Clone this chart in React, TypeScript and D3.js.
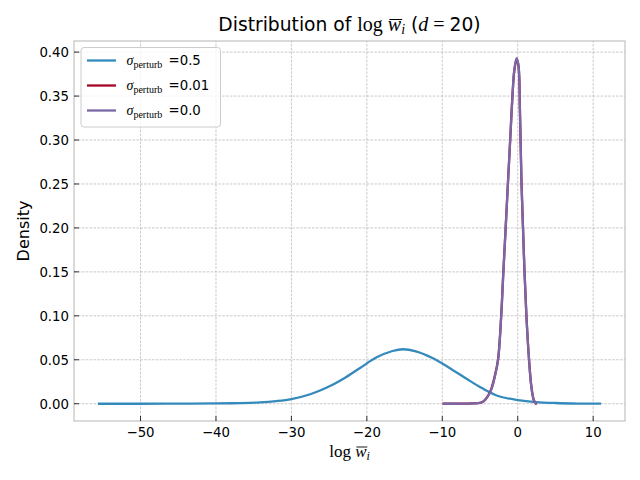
import React, { useLayoutEffect, useRef, useState } from 'react';
import * as d3 from 'd3';

// KDE curves (x = log w_i, y = density)
const blueX = [-55.5, -50, -45, -40, -37, -34.2, -32, -30, -27.5, -25.3, -23.1, -20.9, -18.7, -16.6, -15.2, -13.5, -11.3, -9.1, -6.9, -4.7, -2.5, 0, 2.4, 5, 8, 10.9];
const blueY = [0, 0, 0.00005, 0.0003, 0.0007, 0.0015, 0.003, 0.0053, 0.0108, 0.0184, 0.0285, 0.0407, 0.0528, 0.06, 0.062, 0.0596, 0.052, 0.041, 0.029, 0.0175, 0.0085, 0.0042, 0.0019, 0.0008, 0.0002, 0.00005];

const peakX = [-9.8, -8, -6, -5, -4.5, -4, -3.5, -3, -2.6, -2.2, -1.9, -1.6, -1.3, -1.0, -0.7, -0.45, -0.15, 0.1, 0.3, 0.5, 0.7, 0.9, 1.15, 1.5, 1.8, 2.1, 2.4];
const redY = [0, 0, 0.0003, 0.001, 0.003, 0.008, 0.017, 0.033, 0.051, 0.099, 0.151, 0.2, 0.251, 0.3, 0.35, 0.379, 0.392, 0.384, 0.331, 0.252, 0.2, 0.15, 0.1, 0.05, 0.02, 0.005, 0];
const purpleY = [0, 0, 0.0003, 0.001, 0.003, 0.008, 0.016, 0.032, 0.05, 0.098, 0.15, 0.2, 0.25, 0.3, 0.35, 0.38, 0.393, 0.385, 0.33, 0.25, 0.2, 0.15, 0.1, 0.05, 0.02, 0.005, 0];

const sigmaLabels = ['0.5', '0.01', '0.0'];
const colors = ['#348ABD', '#A60628', '#7A68A6'];
const xTicks = [-50, -40, -30, -20, -10, 0, 10];
const yTicks = [0, 0.05, 0.1, 0.15, 0.2, 0.25, 0.3, 0.35, 0.4];

const W = 640, H = 480;
const margin = { top: 41, right: 15, bottom: 59, left: 74 };
const sans = 'DejaVu Sans, sans-serif';
const serif = 'Liberation Serif, DejaVu Serif, serif';

const titleY = 31, titleMath = 20;
const xlabY = 457, xlabSize = 17;

export default function App() {
  const titleRef = useRef<SVGTextElement>(null);
  const xlabRef = useRef<SVGTextElement>(null);
  const [bars, setBars] = useState<{ t?: [number, number]; x?: [number, number] }>({});

  // overline over the "w" glyph, placed from the measured glyph extent
  useLayoutEffect(() => {
    const out: { t?: [number, number]; x?: [number, number] } = {};
    try {
      if (titleRef.current) {
        const e = titleRef.current.getExtentOfChar(20);
        out.t = [e.x + 1.5, e.x + e.width + 1];
      }
      if (xlabRef.current) {
        const e = xlabRef.current.getExtentOfChar(4);
        out.x = [e.x + 1.2, e.x + e.width + 0.8];
      }
    } catch (err) { /* ignore */ }
    setBars(out);
  }, []);

  const x = d3.scaleLinear().domain([-58.82, 14.22]).range([margin.left, W - margin.right]);
  const y = d3.scaleLinear().domain([-0.01965, 0.41265]).range([H - margin.bottom, margin.top]);

  const line = d3.line<[number, number]>()
    .x(d => x(d[0]))
    .y(d => y(Math.max(0, d[1])))
    .curve(d3.curveCatmullRom.alpha(0.5));

  const series = [
    blueX.map((v, i) => [v, blueY[i]] as [number, number]),
    peakX.map((v, i) => [v, redY[i]] as [number, number]),
    peakX.map((v, i) => [v, purpleY[i]] as [number, number]),
  ];

  const x0 = margin.left, x1 = W - margin.right;
  const y0 = H - margin.bottom, y1 = margin.top;
  const fmtY = d3.format('.2f');
  const fmtX = d3.format('d');

  return (
    <div style={{ position: 'fixed', left: 0, top: 0 }}>
      <svg width={W} height={H} viewBox={`0 0 ${W} ${H}`} style={{ display: 'block', background: '#fff' }}>
        {/* grid */}
        <g stroke="#b2b2b2" strokeWidth={0.7} strokeDasharray="2.6 1.3">
          {xTicks.map(t => <line key={'gx' + t} x1={x(t)} x2={x(t)} y1={y0} y2={y1} />)}
          {yTicks.map(t => <line key={'gy' + t} x1={x0} x2={x1} y1={y(t)} y2={y(t)} />)}
        </g>

        {/* curves */}
        {series.map((s, i) => (
          <path key={i} d={line(s) || ''} fill="none" stroke={colors[i]} strokeWidth={2.3} strokeLinejoin="round" strokeLinecap="square" />
        ))}

        {/* frame */}
        <rect x={x0} y={y1} width={x1 - x0} height={y0 - y1} fill="none" stroke="#bcbcbc" strokeWidth={1.1} />

        {/* ticks */}
        <g stroke="#000" strokeWidth={0.8}>
          {xTicks.map(t => <line key={'tx' + t} x1={x(t)} x2={x(t)} y1={y0} y2={y0 - 5} />)}
          {yTicks.map(t => <line key={'ty' + t} x1={x0} x2={x0 + 5} y1={y(t)} y2={y(t)} />)}
        </g>
        <g fontFamily={sans} fontSize={13.3} fill="#000">
          {xTicks.map(t => (
            <text key={'lx' + t} x={x(t)} y={y0 + 16} textAnchor="middle">{fmtX(t)}</text>
          ))}
          {yTicks.map(t => (
            <text key={'ly' + t} x={x0 - 5} y={y(t) + 5} textAnchor="end">{fmtY(t)}</text>
          ))}
        </g>

        {/* axis labels */}
        <text ref={xlabRef} x={(x0 + x1) / 2} y={xlabY} textAnchor="middle" fontFamily={serif} fontSize={xlabSize}>
          <tspan>log </tspan>
          <tspan fontStyle="italic">w</tspan>
          <tspan fontStyle="italic" fontSize={12} dy={3}>i</tspan>
        </text>
        {bars.x && (
          <line x1={bars.x[0]} x2={bars.x[1]} y1={xlabY - 10} y2={xlabY - 10} stroke="#000" strokeWidth={0.9} />
        )}
        <text transform={`translate(29,${(y0 + y1) / 2}) rotate(-90)`} textAnchor="middle" fontFamily={sans} fontSize={16}>Density</text>

        {/* title */}
        <text ref={titleRef} x={(x0 + x1) / 2} y={titleY} textAnchor="middle" fontFamily={sans} fontSize={18.7}>
          <tspan>Distribution of </tspan>
          <tspan fontFamily={serif} fontSize={titleMath}>log </tspan>
          <tspan fontFamily={serif} fontSize={titleMath} fontStyle="italic">w</tspan>
          <tspan fontFamily={serif} fontSize={14} fontStyle="italic" dy={3}>i</tspan>
          <tspan dy={-3}> (</tspan>
          <tspan fontFamily={serif} fontSize={titleMath} fontStyle="italic">d</tspan>
          <tspan fontFamily={serif} fontSize={titleMath}> = </tspan>
          <tspan>20)</tspan>
        </text>
        {bars.t && (
          <line x1={bars.t[0]} x2={bars.t[1]} y1={titleY - 11.5} y2={titleY - 11.5} stroke="#000" strokeWidth={1} />
        )}

        {/* legend */}
        <rect x={81} y={47.5} width={139.5} height={79.5} rx={3} fill="#fff" fillOpacity={0.8} stroke="#cccccc" strokeWidth={1} />
        {sigmaLabels.map((lab, i) => {
          const ly = 60.5 + i * 25;
          return (
            <g key={lab}>
              <line x1={87} x2={116} y1={ly} y2={ly} stroke={colors[i]} strokeWidth={2.3} />
              <text x={126.5} y={ly + 4.5} fontFamily={sans} fontSize={13.3}>
                <tspan fontFamily={serif} fontStyle="italic" fontSize={14}>σ</tspan>
                <tspan fontFamily={serif} fontSize={10} dy={3}>perturb</tspan>
                <tspan dy={-3} dx={2}> =</tspan>
                <tspan>{lab}</tspan>
              </text>
            </g>
          );
        })}
      </svg>
    </div>
  );
}
